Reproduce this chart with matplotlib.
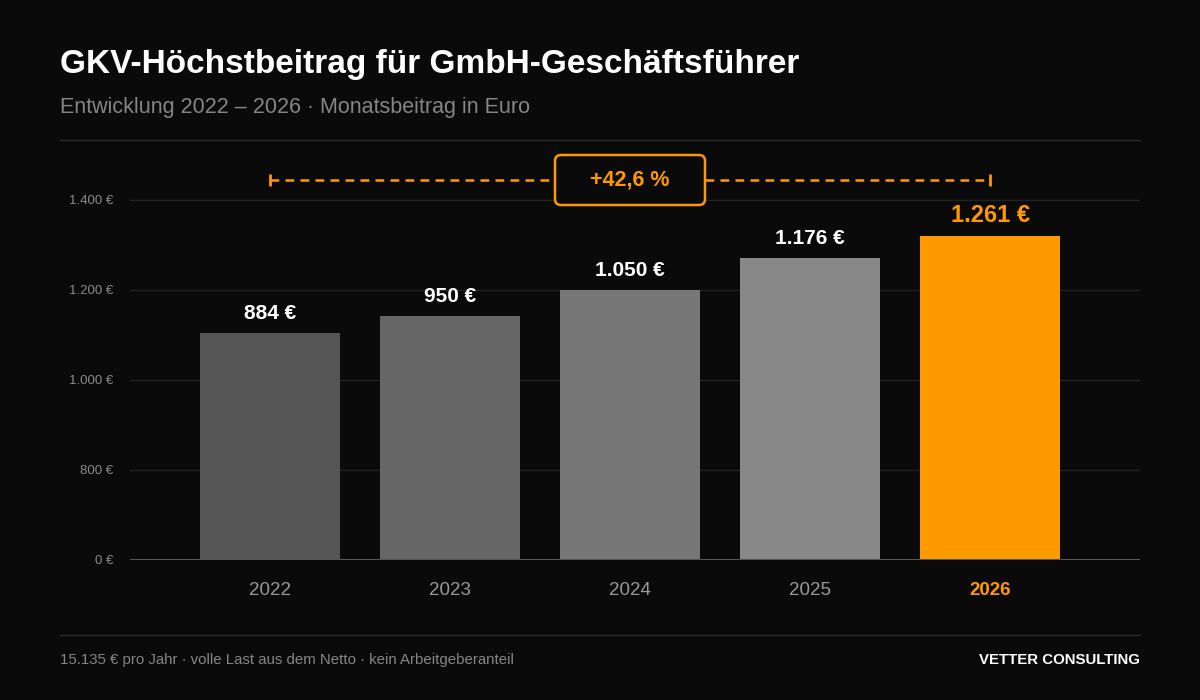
import matplotlib.pyplot as plt
from matplotlib.lines import Line2D
from matplotlib.patches import FancyBboxPatch
from matplotlib.transforms import IdentityTransform

plt.rcParams['font.family'] = ['Liberation Sans', 'DejaVu Sans']

years = ["2022", "2023", "2024", "2025", "2026"]
beitrag = [884, 950, 1050, 1176, 1261]
bar_colors = ["#555555", "#666666", "#777777", "#888888", "#FF9900"]

# axis ticks as printed on the chart (labels do not follow the linear scale)
y_ticks = [0, 350, 700, 1050, 1400]
y_tick_labels = ["0 €", "800 €", "1.000 €", "1.200 €", "1.400 €"]

BG = "#0a0a0a"
ORANGE = "#FF9900"

fig = plt.figure(figsize=(12, 7), dpi=100, facecolor=BG)
ax = fig.add_axes([130/1200, 0.2, 1010/1200, 0.6])
ax.set_facecolor(BG)

x = list(range(len(years)))
ax.bar(x, beitrag, width=140/180, color=bar_colors, zorder=2)

ax.set_xlim(-140/180, 870/180)
ax.set_ylim(0, 1400 * 420 / 360)

ax.set_yticks(y_ticks)
ax.set_yticklabels(y_tick_labels, color="#8a8a8a", fontsize=9.5)
ax.tick_params(axis='y', length=0, pad=12)
ax.grid(axis='y', color="#222222", lw=1, zorder=0)

ax.set_xticks(x)
ax.set_xticklabels(years, color="#999999", fontsize=13.5)
ax.tick_params(axis='x', length=0, pad=16)
lbl = ax.get_xticklabels()[-1]
lbl.set_color(ORANGE)
lbl.set_fontweight('bold')

for s in ax.spines.values():
    s.set_visible(False)
ax.axhline(0, color="#555555", lw=1.5, zorder=3)

# value labels
for i, v in enumerate(beitrag):
    last = i == len(beitrag) - 1
    ax.annotate(f"{v:,}".replace(",", ".") + " €", (i, v),
                xytext=(0, 6 if last else 7),
                textcoords='offset points', ha='center', va='bottom',
                fontsize=17 if last else 15, fontweight='bold',
                color=ORANGE if last else "white")

# growth bracket
y_ann = 380 * 1400 / 360
ax.plot([0, len(years) - 1], [y_ann, y_ann], color=ORANGE, lw=1.8,
        ls=(0, (3.5, 2.5)), clip_on=False, zorder=4)
ax.plot([0, len(years) - 1], [y_ann, y_ann], ls='none', marker='|',
        markersize=9, mew=2, color=ORANGE, clip_on=False, zorder=4)

growth = (beitrag[-1] / beitrag[0] - 1) * 100
cx = (len(years) - 1) / 2
fig.canvas.draw()
px, py = ax.transData.transform((cx, y_ann))
box = FancyBboxPatch((px - 75, py - 25), 150, 50,
                     boxstyle='round,pad=0,rounding_size=6',
                     transform=IdentityTransform(), facecolor=BG,
                     edgecolor=ORANGE, lw=1.8, zorder=5, clip_on=False)
ax.add_artist(box)
ax.text(cx, y_ann, f"+{growth:.1f} %".replace(".", ","), ha='center',
        va='center', color=ORANGE, fontsize=15.5, fontweight='bold', zorder=6)

# header / footer
fig.text(60/1200, 1 - 65/700, "GKV-Höchstbeitrag für GmbH-Geschäftsführer",
         color="white", fontsize=24, fontweight='bold', va='center')
fig.text(60/1200, 1 - 108/700, "Entwicklung 2022 – 2026 · Monatsbeitrag in Euro",
         color="#858585", fontsize=15.5, va='center')
fig.add_artist(Line2D([0.05, 0.95], [1 - 140/700] * 2, color="#2a2a2a", lw=1))
fig.add_artist(Line2D([0.05, 0.95], [1 - 635/700] * 2, color="#2a2a2a", lw=1))
fig.text(60/1200, 1 - 660/700,
         "15.135 € pro Jahr · volle Last aus dem Netto · kein Arbeitgeberanteil",
         color="#858585", fontsize=10.8, va='center')
fig.text(1140/1200, 1 - 660/700, "VETTER CONSULTING", color="white",
         fontsize=10.8, fontweight='bold', va='center', ha='right')

fig.savefig("out.png", dpi=100, facecolor=BG)
